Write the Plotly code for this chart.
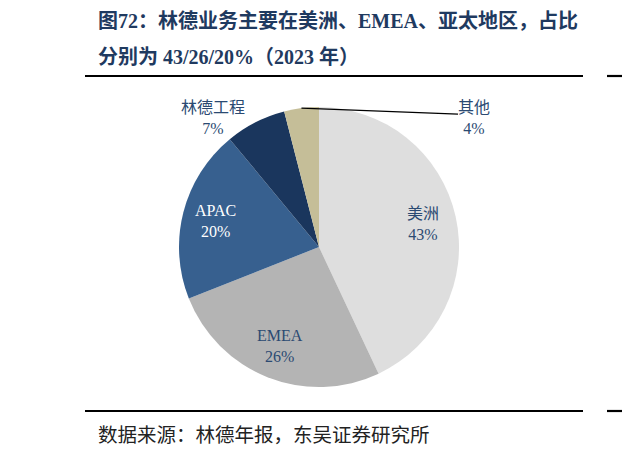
import math
import plotly.graph_objects as go

W, H = 622, 451

regions = ["美洲", "EMEA", "APAC", "林德工程", "其他"]
shares = [43, 26, 20, 7, 4]
colors = ["#DEDEDE", "#B4B4B4", "#37608F", "#1A365D", "#C5BE98"]
text_colors = ["#2B4A72", "#2B4A72", "#FFFFFF", "#2B4A72", "#2B4A72"]

title_lines = ["图72：林德业务主要在美洲、EMEA、亚太地区，占比",
               "分别为 43/26/20%（2023 年）"]
source = "数据来源：林德年报，东吴证券研究所"

serif = "Liberation Serif, Times New Roman, Noto Sans CJK SC, serif"

# pie geometry in page pixels
cx, cy, r = 319, 247, 140


def px(x):
    return x / W


def py(y):
    return 1 - y / H


fig = go.Figure()
fig.add_trace(go.Pie(
    labels=regions,
    values=shares,
    sort=False,
    direction="clockwise",
    rotation=0,
    marker=dict(colors=colors, line=dict(width=0)),
    textinfo="none",
    domain=dict(x=[px(cx - r), px(cx + r)], y=[py(cy + r), py(cy - r)]),
    hoverinfo="skip",
    showlegend=False,
    automargin=False,
))

# data labels at the slice mid-angles
total = sum(shares)
annotations = []
shapes = []
cum = 0
for name, v, tc in zip(regions, shares, text_colors):
    mid = (cum + v / 2) / total * 2 * math.pi
    cum += v
    sx, sy = math.sin(mid), -math.cos(mid)
    ex, ey = cx + r * sx, cy + r * sy
    label = f"{name}<br>{v}%"
    if v >= 15:
        lx, ly = cx + 0.76 * r * sx, cy + 0.76 * r * sy
    elif v >= 5:
        lx, ly = ex - 42, ey - 4
    else:
        # leader line out to the right
        lx, ly = cx + 155, ey + 10
        shapes.append(dict(type="line", xref="paper", yref="paper",
                           x0=px(ex), y0=py(ey), x1=px(lx - 16), y1=py(ey + 6),
                           line=dict(color="#000000", width=1.3)))
    annotations.append(dict(text=label, x=px(lx), y=py(ly), xref="paper", yref="paper",
                            xanchor="center", yanchor="middle", showarrow=False,
                            font=dict(family=serif, size=16, color=tc)))

for y in (76, 411):
    shapes.append(dict(type="line", xref="paper", yref="paper",
                       x0=px(85), x1=px(583), y0=py(y), y1=py(y),
                       line=dict(color="#000000", width=2.2)))
    shapes.append(dict(type="line", xref="paper", yref="paper",
                       x0=px(607), x1=px(622), y0=py(y), y1=py(y),
                       line=dict(color="#000000", width=2.2)))

title_font = dict(family="Liberation Serif, Noto Sans CJK SC, serif", size=20, color="#1F3A60")
annotations += [
    dict(text="<b>" + title_lines[0] + "</b>", x=px(96), y=py(21), xref="paper", yref="paper",
         xanchor="left", yanchor="middle", showarrow=False, font=title_font),
    dict(text="<b>" + title_lines[1] + "</b>", x=px(96), y=py(57), xref="paper", yref="paper",
         xanchor="left", yanchor="middle", showarrow=False, font=title_font),
    dict(text=source, x=px(96), y=py(433), xref="paper", yref="paper",
         xanchor="left", yanchor="middle", showarrow=False,
         font=dict(family="Noto Sans CJK SC, sans-serif", size=19.5, color="#222222")),
]

fig.update_layout(
    width=W, height=H,
    margin=dict(l=0, r=0, t=0, b=0),
    paper_bgcolor="white",
    plot_bgcolor="white",
    shapes=shapes,
    annotations=annotations,
)

fig.write_html("out.html", config={"displayModeBar": False},
               post_script="document.body.style.margin='0';")
